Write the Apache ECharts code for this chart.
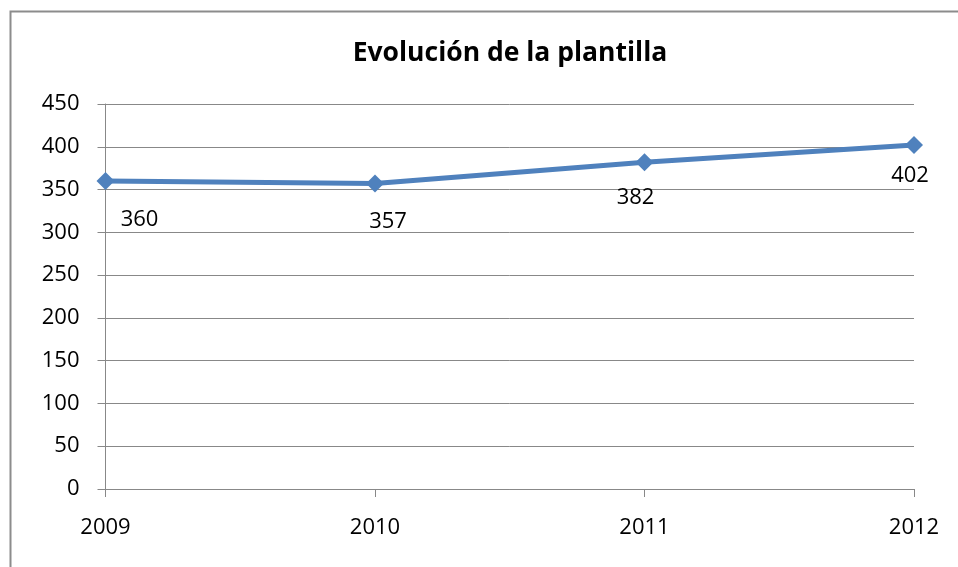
<!DOCTYPE html>
<html>
<head>
<meta charset="utf-8">
<script src="https://cdn.jsdelivr.net/npm/echarts@6/dist/echarts.min.js"></script>
<style>
  html, body { margin: 0; padding: 0; background: #fff; }
  #main { width: 958px; height: 567px; }
</style>
</head>
<body>
<div id="main"></div>
<script>
// datos de la gráfica
const years = ["2009", "2010", "2011", "2012"];
const plantilla = [360, 357, 382, 402];

const chart = echarts.init(document.getElementById("main"));

// desplazamiento de cada etiqueta (como en el original de Excel)
const labelOffsets = [[34, -1], [13, -2], [-9, -4], [-4, -9]];

const option = {
  backgroundColor: "#fff",
  animation: false,
  title: {
    text: "Evolución de la plantilla",
    left: 505,
    textAlign: "center",
    top: 35,
    textStyle: {
      fontFamily: "Open Sans",
      fontWeight: "bold",
      fontSize: 26.5,
      color: "#000"
    }
  },
  graphic: [
    {
      type: "rect",
      shape: { x: 10.5, y: 11.5, width: 1200, height: 800 },
      style: { fill: null, stroke: "#8c8c8c", lineWidth: 2 },
      silent: true
    }
  ],
  grid: { left: 105.5, right: 44, top: 104, bottom: 78 },
  xAxis: {
    type: "category",
    data: years,
    boundaryGap: false,
    axisLine: { lineStyle: { color: "#888", width: 1 } },
    axisTick: { show: true, length: 8, lineStyle: { color: "#888" } },
    axisLabel: {
      margin: 28,
      color: "#000",
      fontFamily: "Open Sans",
      fontSize: 22
    },
    splitLine: { show: false }
  },
  yAxis: {
    type: "value",
    min: 0,
    max: 450,
    interval: 50,
    axisLine: { show: true, lineStyle: { color: "#888", width: 1 } },
    axisTick: { show: true, length: 8, lineStyle: { color: "#888" } },
    axisLabel: {
      margin: 26,
      color: "#000",
      fontFamily: "Open Sans",
      fontSize: 22
    },
    splitLine: { lineStyle: { color: "#888", width: 1 } }
  },
  series: [
    {
      name: "Plantilla",
      type: "line",
      data: plantilla.map((v, i) => ({
        value: v,
        label: { offset: labelOffsets[i] }
      })),
      symbol: "diamond",
      symbolSize: 18,
      lineStyle: { color: "#4f81bd", width: 5 },
      itemStyle: { color: "#4f81bd" },
      label: {
        show: true,
        position: "bottom",
        distance: 20,
        color: "#000",
        fontFamily: "Open Sans",
        fontSize: 22
      }
    }
  ]
};

chart.setOption(option);
</script>
</body>
</html>
